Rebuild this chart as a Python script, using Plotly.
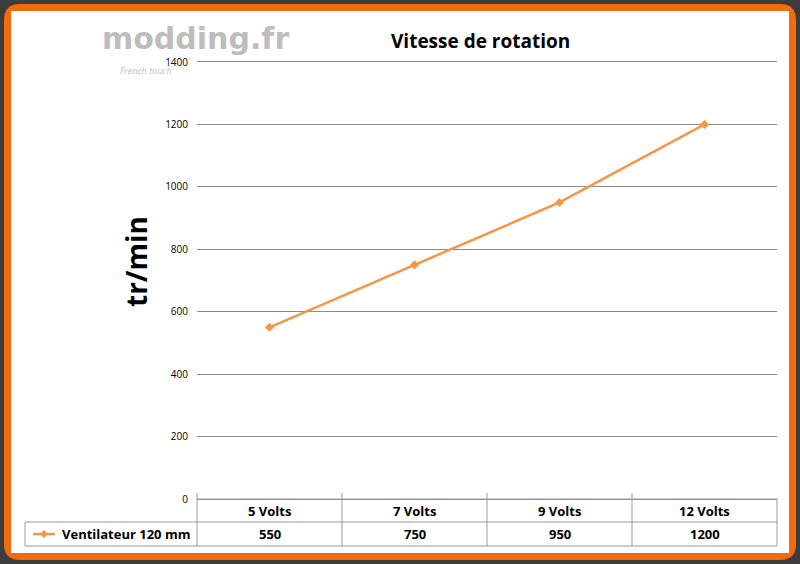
import plotly.graph_objects as go

categories = ["5 Volts", "7 Volts", "9 Volts", "12 Volts"]
values = [550, 750, 950, 1200]
series_name = "Ventilateur 120 mm"
yticks = [0, 200, 400, 600, 800, 1000, 1200, 1400]

W, H = 800, 564
def px(x): return x / W
def py(y): return 1 - y / H

orange = "#F79646"
fig = go.Figure(go.Scatter(x=categories, y=values, mode="lines+markers",
    line=dict(color=orange, width=2.5), marker=dict(symbol="diamond", size=7, color=orange),
    name=series_name, showlegend=False))

shapes = [
    dict(type="path", xref="paper", yref="paper", layer="below",
         path=f"M {px(20)},{py(4)} L {px(780)},{py(4)} Q {px(796)},{py(4)} {px(796)},{py(20)} L {px(796)},{py(544)} Q {px(796)},{py(560)} {px(780)},{py(560)} L {px(20)},{py(560)} Q {px(4)},{py(560)} {px(4)},{py(544)} L {px(4)},{py(20)} Q {px(4)},{py(4)} {px(20)},{py(4)} Z",
         fillcolor="#F26B0F", line_width=0),
    dict(type="rect", xref="paper", yref="paper", x0=px(11), x1=px(789), y0=py(553), y1=py(11), fillcolor="white", line_width=0, layer="below"),
]
line = dict(color="#9a9a9a", width=1)
for y in [499, 522, 546]:
    x0 = 197 if y == 499 else 25
    shapes.append(dict(type="line", xref="paper", yref="paper", x0=px(x0), x1=px(777), y0=py(y), y1=py(y), line=line))
for x in [197, 342, 487, 632, 777]:
    shapes.append(dict(type="line", xref="paper", yref="paper", x0=px(x), x1=px(x), y0=py(493 if x != 777 else 499), y1=py(546), line=line))
shapes.append(dict(type="line", xref="paper", yref="paper", x0=px(25), x1=px(25), y0=py(522), y1=py(546), line=line))
shapes.append(dict(type="line", xref="paper", yref="paper", x0=px(33), x1=px(55), y0=py(534), y1=py(534), line=dict(color=orange, width=2.5)))
shapes.append(dict(type="path", xref="paper", yref="paper",
    path=f"M {px(44)},{py(530)} L {px(48)},{py(534)} L {px(44)},{py(538)} L {px(40)},{py(534)} Z",
    fillcolor=orange, line_width=0))

def A(text, x, y, size, color="black", xref="paper", **kw):
    return dict(text=text, x=x, y=py(y), xref=xref, yref="paper", showarrow=False,
                yanchor="middle", font=dict(size=size, color=color, **kw.pop("fkw", {})), **kw)

ann = [
    A("<b>Vitesse de rotation</b>", px(480), 41, 19),
    A("<b>tr/min</b>", px(115), 262, 28, textangle=-90),
    A("<b>modding.fr</b>", px(100), 38, 30, color="#bdbdbd", fkw=dict(family="DejaVu Sans")),
    A("<i>French touch</i>", px(118), 70, 9, color="#c0c0c0"),
    A("<b>" + series_name + "</b>", px(60), 534, 13, xanchor="left"),
]
for c, v in zip(categories, values):
    ann.append(A(f"<b>{c}</b>", c, 511, 13, xref="x"))
    ann.append(A(f"<b>{v}</b>", c, 534, 13, xref="x"))

fig.update_layout(width=W, height=H, margin=dict(l=0, r=0, t=0, b=0, pad=0, autoexpand=False),
    paper_bgcolor="#3c3c3c", plot_bgcolor="rgba(0,0,0,0)",
    font=dict(family="Open Sans", color="black"),
    shapes=shapes, annotations=ann,
    xaxis=dict(domain=[px(197), px(777)], range=[-0.5, 3.5], showticklabels=False, showgrid=False, zeroline=False,
               showline=True, mirror=True, linecolor="#8a8a8a", automargin=False),
    yaxis=dict(domain=[py(499), py(62)], range=[0, 1400], tickvals=yticks, showgrid=True,
               gridcolor="#8a8a8a", gridwidth=1, zeroline=False, showline=False, ticks="",
               tickfont=dict(size=10), ticklabelstandoff=8, automargin=False))
fig.write_html("out.html", config={"displayModeBar": False, "responsive": False},
               post_script="document.body.style.margin='0';document.body.style.overflow='hidden';")
